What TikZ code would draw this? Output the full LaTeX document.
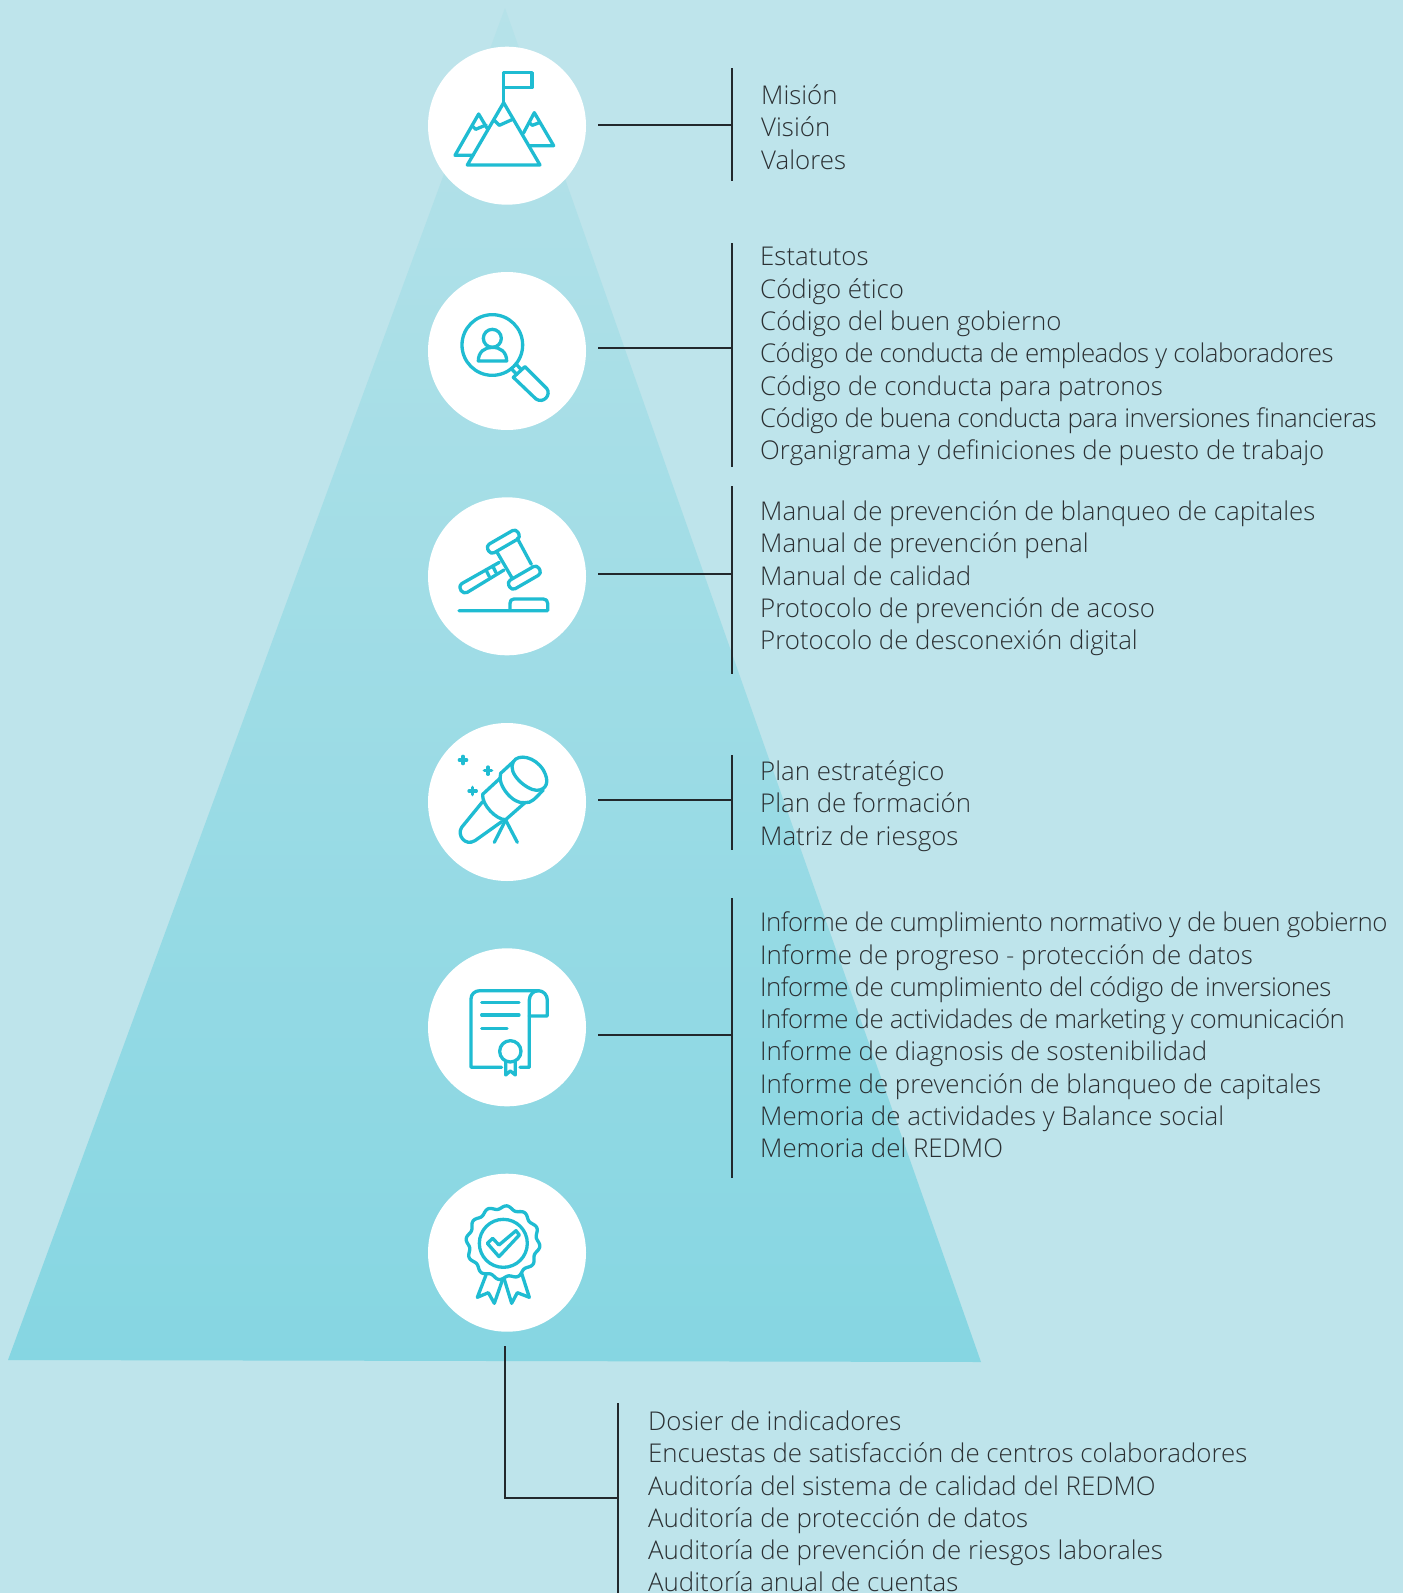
\documentclass[tikz,border=0pt]{standalone}
\usepackage{fontspec}
\setmainfont{Open Sans}[UprightFont=* Light]
\newcommand{\tightline}[1]{{\addfontfeature{LetterSpace=-2.2}#1}}
\begin{document}
\begin{tikzpicture}[x=1pt,y=-1pt,
  icon/.style={draw=iconc,line width=3.3pt,line join=round,line cap=round},
  disc/.style={circle,fill=white,minimum size=158pt,inner sep=0pt},
  conn/.style={draw=linec,line width=2.4pt},
  lst/.style={anchor=west,align=left,inner sep=0pt,text=textc,font=\fontsize{25.85}{32.3}\selectfont}]
\definecolor{bgc}{HTML}{BEE4EB}
\definecolor{topc}{HTML}{B6E2E9}
\definecolor{botc}{HTML}{86D6E2}
\definecolor{iconc}{HTML}{1FBCD2}
\definecolor{linec}{HTML}{22282C}
\definecolor{textc}{HTML}{2B3033}
\useasboundingbox (0,0) rectangle (1403,1593);
\clip (0,0) rectangle (1403,1593);
\fill[bgc] (0,0) rectangle (1403,1593);
\shade[top color=topc,bottom color=botc] (505,8) -- (981,1362) -- (8,1360) -- cycle;
\foreach \n/\y in {c1/125.7,c2/351,c3/576.3,c4/802,c5/1027.3,c6/1252.7}{\node[disc] (\n) at (507,\y) {};}
% lists
\node[lst] (l1) at (761,127.2) {Misión\\Visión\\Valores};
\node[lst] (l2) at (760,356.6) {Estatutos\\Código ético\\Código del buen gobierno\\\tightline{Código de conducta de empleados y colaboradores}\\Código de conducta para patronos\\\tightline{Código de buena conducta para inversiones financieras}\\Organigrama y definiciones de puesto de trabajo};
\node[lst] (l3) at (760,578.3) {Manual de prevención de blanqueo de capitales\\Manual de prevención penal\\Manual de calidad\\Protocolo de prevención de acoso\\Protocolo de desconexión digital};
\node[lst] (l4) at (760,806) {Plan estratégico\\Plan de formación\\Matriz de riesgos};
\node[lst] (l5) at (760,1035) {\tightline{Informe de cumplimiento normativo y de buen gobierno}\\Informe de progreso - protección de datos\\\tightline{Informe de cumplimiento del código de inversiones}\\\tightline{Informe de actividades de marketing y comunicación}\\Informe de diagnosis de sostenibilidad\\Informe de prevención de blanqueo de capitales\\Memoria de actividades y Balance social\\Memoria del REDMO};
\node[lst] (l6) at (648,1501.5) {Dosier de indicadores\\Encuestas de satisfacción de centros colaboradores\\Auditoría del sistema de calidad del REDMO\\Auditoría de protección de datos\\Auditoría de prevención de riesgos laborales\\Auditoría anual de cuentas};
% connectors
\foreach \n/\a/\m/\b in {1/68/125/181,2/243/348/467,3/486/574/674,4/755/800/850,5/898/1035/1178}{
  \coordinate (s\n) at (598,\m);
  \coordinate (j\n) at (732,\m);
  \coordinate (t\n) at (732,\a);
  \coordinate (b\n) at (732,\b);
  \draw[conn] (s\n) -- (j\n);
  \draw[conn] (t\n) -- (b\n);
}
\coordinate (s6) at (505,1346);
\coordinate (k6) at (505,1498);
\coordinate (j6) at (618,1498);
\coordinate (t6) at (618,1403);
\coordinate (b6) at (618,1593);
\draw[conn] (s6) -- (k6) -- (j6);
\draw[conn] (t6) -- (b6);
% icon 1
\begin{scope}[shift={(410,30)},x=.3333pt,y=-.3333pt]
 \path[icon] (281,218) -- (281,128) -- (366,128) -- (366,173) -- (281,173);
 \path[icon] (281,218) -- (390,405) -- (172,405) -- cycle;
 \path[icon] (252,270) -- (268,286) -- (308,268);
 \path[icon] (232,296) -- (206,252) -- (135,376) -- (190,376);
 \path[icon] (187,288) -- (197,298) -- (228,285);
 \path[icon] (340,310) -- (373,248) -- (431,347) -- (358,347);
 \path[icon] (358,278) -- (367,286) -- (388,278);
\end{scope}
% icon 2
\begin{scope}[shift={(410,260)},x=.3333pt,y=-.3333pt]
 \path[icon] (247,255) circle [radius=91];
 \path[icon] (247,235) circle [radius=27];
 \path[icon] (205,303) .. controls (205,275) and (225,262) .. (247,262) .. controls (270,262) and (290,275) .. (290,303) -- cycle;
 \path[icon] (318,312) -- (334,329);
 \path[icon] (304,326) -- (320,343);
 \path[icon] (310,352) -- (345,320) -- (410,385) .. controls (425,405) and (400,432) .. (378,417) -- cycle;
\end{scope}
% icon 3
\begin{scope}[shift={(410,485)},x=.3333pt,y=-.3333pt]
 \path[icon,rounded corners=4pt] (332.5,157) -- (317.5,131) -- (227.5,183) -- (242.5,209) -- cycle;
 \path[icon,rounded corners=4pt] (395.5,265) -- (380.5,239) -- (290.5,291) -- (305.5,317) -- cycle;
 \path[icon] (322,160) -- (364,238);
 \path[icon] (262,203) -- (305,277);
 \path[icon] (268,232) -- (155,296) .. controls (140,310) and (160,330) .. (172,322) -- (282,255);
 \path[icon] (228,255) -- (238,275);
 \path[icon] (248,243) -- (258,263);
 \path[icon] (147,377) -- (413,377) -- (413,355) .. controls (413,347) and (408,342) .. (400,342) -- (312,342) .. controls (304,342) and (300,347) .. (300,355) -- (300,377);
\end{scope}
% icon 4
\begin{scope}[shift={(410,710)},x=.3333pt,y=-.3333pt]
 \path[icon] (310,155) .. controls (325,130) and (375,140) .. (400,180) .. controls (420,215) and (410,240) .. (380,241) .. controls (350,240) and (290,190) .. (310,155);
 \path[icon] (310,155) -- (272,190) .. controls (260,225) and (310,285) .. (345,278) .. controls (365,280) and (375,265) .. (400,240);
 \path[icon] (272,203) -- (218,253) .. controls (215,285) and (260,330) .. (287,329) -- (345,278);
 \path[icon] (218,275) -- (155,352) .. controls (140,375) and (165,410) .. (195,392) -- (275,335);
 \path[icon] (287,330) -- (253,397);
 \path[icon] (287,330) -- (322,397);
 \path[icon] (148,150) -- (170,150) (159,139) -- (159,161);
 \path[icon] (223,182) -- (245,182) (234,171) -- (234,193);
 \path[icon] (177,243) -- (199,243) (188,232) -- (188,254);
\end{scope}
% icon 5
\begin{scope}[shift={(410,935)},x=.3333pt,y=-.3333pt]
 \path[icon] (275,397) -- (183,397) -- (183,192) .. controls (183,177) and (195,167) .. (210,167) -- (385,167) .. controls (400,167) and (412,180) .. (412,195) -- (412,243) -- (358,243);
 \path[icon] (330,397) -- (358,397) -- (358,195) .. controls (358,180) and (370,167) .. (385,167);
 \path[icon] (215,202) -- (327,202);
 \path[icon] (215,240) -- (327,240);
 \path[icon] (215,280) -- (291,280);
 \path[icon] (301,349) circle [radius=32];
 \path[icon] (287,380) -- (287,420) -- (301,408) -- (316,420) -- (316,380);
\end{scope}
% icon 6
\begin{scope}[shift={(410,1160)},x=.3333pt,y=-.3333pt]
 \path[icon] plot[domain=0:360,samples=181,smooth] ({279+(106+5*cos(12*(\x+84)))*cos(\x)},{248+(106+5*cos(12*(\x+84)))*sin(\x)});
 \path[icon] (280,250) circle [radius=72];
 \path[icon] (232,250) -- (248,235) -- (267,255) -- (318,212) -- (328,225) -- (267,290) -- cycle;
 \path[icon] (228,345) -- (202,412) -- (235,398) -- (253,430) -- (278,358);
 \path[icon] (283,358) -- (305,430) -- (322,398) -- (358,412) -- (335,340);
\end{scope}
\end{tikzpicture}
\end{document}
